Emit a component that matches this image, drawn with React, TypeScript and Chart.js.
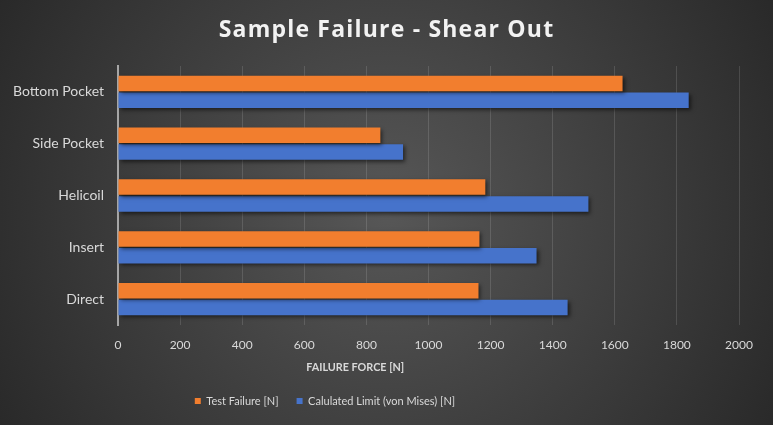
import { useEffect, useRef } from "react"
import Chart from "chart.js/auto"

const categories = ["Bottom Pocket", "Side Pocket", "Helicoil", "Insert", "Direct"]
const testFailure = [1625, 845, 1183, 1164, 1161]
const calculatedLimit = [1838, 918, 1515, 1348, 1448]
const seriesNames = ["Test Failure [N]", "Calulated Limit (von Mises) [N]"]
const axisTitle = "FAILURE FORCE [N]"

const FONT = "Lato, 'Open Sans', sans-serif"
const TEXT = "#d9d9d9"

// dark radial background like the office chart style
const backgroundPlugin = {
  id: "bg",
  beforeDraw(chart: any) {
    const { ctx, width, height } = chart
    const g = ctx.createRadialGradient(width / 2, height / 2, 0, width / 2, height / 2, width * 0.6)
    g.addColorStop(0, "#575757")
    g.addColorStop(1, "#272727")
    ctx.save()
    ctx.fillStyle = g
    ctx.fillRect(0, 0, width, height)
    ctx.restore()
  },
}

// soft drop shadow under the bars
const shadowPlugin = {
  id: "barShadow",
  beforeDatasetsDraw(chart: any) {
    const ctx = chart.ctx
    ctx.save()
    ctx.shadowColor = "rgba(0,0,0,0.55)"
    ctx.shadowBlur = 4
    ctx.shadowOffsetX = 2
    ctx.shadowOffsetY = 2
  },
  afterDatasetsDraw(chart: any) {
    chart.ctx.restore()
  },
}

// excel puts the axis title and legend a bit left of the plot centre,
// centres the title on the whole canvas and spaces its letters out
const layoutTweaks = {
  id: "layoutTweaks",
  afterLayout(chart: any) {
    const lg = chart.legend
    if (lg) {
      lg.left = 0
      lg.right = 650
    }
    const tb = chart.titleBlock
    if (tb) {
      tb.left = 0
      tb.right = chart.width
      if (!tb._spaced) {
        const orig = tb.draw
        tb.draw = function (...args: any[]) {
          const ctx = chart.ctx
          ctx.save()
          ctx.letterSpacing = "1.2px"
          orig.apply(this, args)
          ctx.restore()
        }
        tb._spaced = true
      }
    }
  },
  afterDraw(chart: any) {
    const { ctx, chartArea } = chart
    ctx.save()
    ctx.fillStyle = TEXT
    ctx.font = `bold 10.8px ${FONT}`
    ctx.textAlign = "center"
    ctx.textBaseline = "middle"
    ctx.fillText(axisTitle, chartArea.left + (chartArea.right - chartArea.left) * 0.382, chartArea.bottom + 43)
    ctx.restore()
  },
}

export default function App() {
  const canvasRef = useRef<HTMLCanvasElement>(null)

  useEffect(() => {
    document.body.style.margin = "0"
    if (!canvasRef.current) return
    const chart = new Chart(canvasRef.current, {
      type: "bar",
      data: {
        labels: categories,
        datasets: [
          {
            label: seriesNames[0],
            data: testFailure,
            backgroundColor: "#f27e2e",
            categoryPercentage: 0.65,
            barPercentage: 0.92,
          },
          {
            label: seriesNames[1],
            data: calculatedLimit,
            backgroundColor: "#4673cb",
            categoryPercentage: 0.65,
            barPercentage: 0.92,
          },
        ],
      },
      options: {
        indexAxis: "y",
        animation: false,
        responsive: true,
        maintainAspectRatio: false,
        layout: { padding: { top: 0, right: 34, bottom: 8.5, left: 0 } },
        font: { family: FONT },
        color: TEXT,
        plugins: {
          title: {
            display: true,
            text: "Sample Failure - Shear Out",
            color: "#f2f2f2",
            font: { family: "'Open Sans', sans-serif", size: 23, weight: "bold", lineHeight: 1.2 },
            padding: { top: 16.2, bottom: 22.2 },
          },
          legend: {
            position: "bottom",
            labels: {
              color: TEXT,
              font: { family: FONT, size: 11 },
              boxWidth: 6,
              boxHeight: 6,
              padding: 18,
            },
          },
          tooltip: { enabled: false },
        },
        scales: {
          x: {
            min: 0,
            max: 2000,
            ticks: {
              stepSize: 200,
              color: TEXT,
              font: { family: FONT, size: 12 },
              padding: 13,
              callback: (v: any) => String(v),
            },
            grid: { color: "rgba(255,255,255,0.13)", drawTicks: false },
            border: { display: false },
            afterFit(scale: any) {
              scale.height = 52.5
            },
          },
          y: {
            ticks: { color: TEXT, font: { family: FONT, size: 14 }, padding: 14 },
            grid: { display: false, drawTicks: false },
            border: { color: "#a6a6a6", width: 2 },
            afterFit(scale: any) {
              scale.width = 118
            },
          },
        },
      },
      plugins: [backgroundPlugin, shadowPlugin, layoutTweaks],
    })
    return () => chart.destroy()
  }, [])

  return (
    <div style={{ position: "relative", width: 773, height: 425 }}>
      <canvas ref={canvasRef} />
    </div>
  )
}
